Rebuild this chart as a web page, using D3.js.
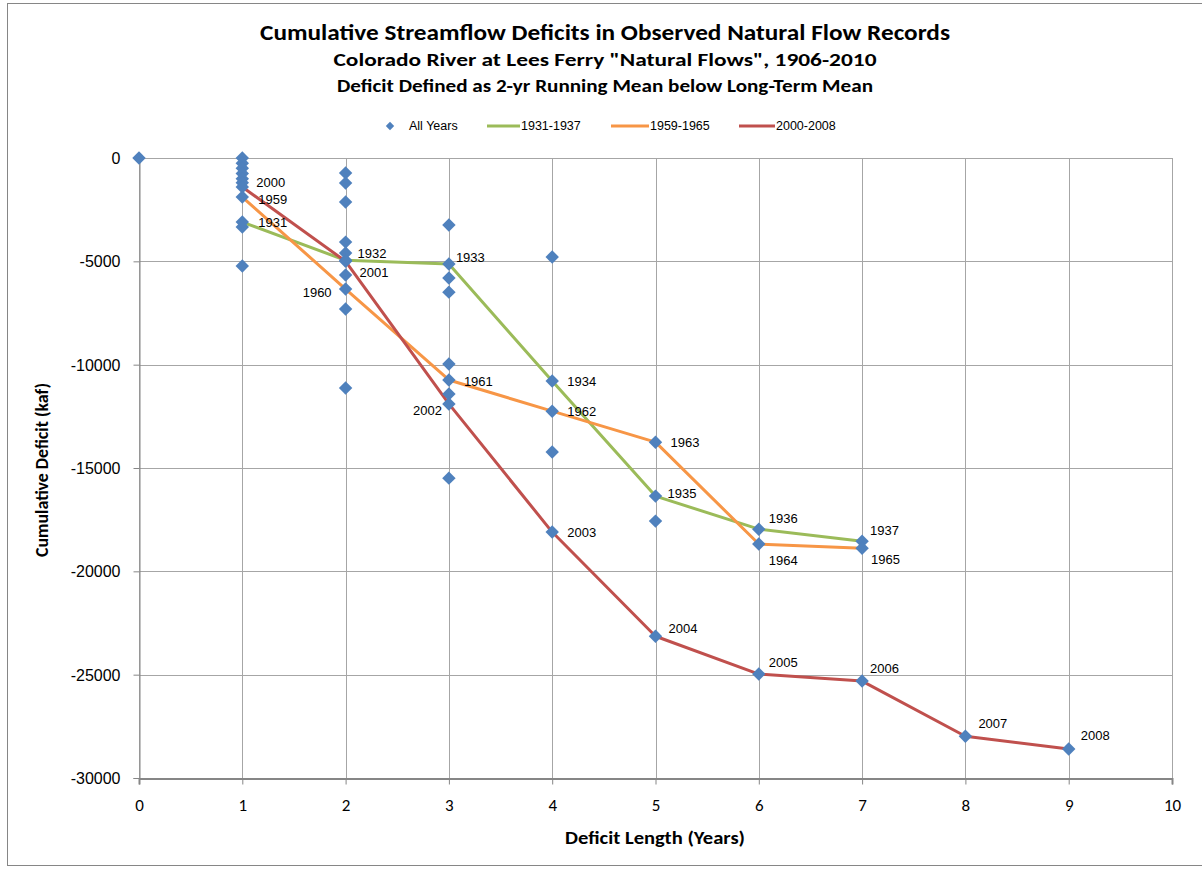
<!DOCTYPE html>
<html><head><meta charset="utf-8">
<script src="https://cdn.jsdelivr.net/npm/d3@7"></script>
<style>
body{margin:0;background:#fff;}
svg{display:block;}
</style></head>
<body>
<svg id="chart" width="1202" height="871"></svg>
<script>
// ---------- data ----------
const titleLines = ["Cumulative Streamflow Deficits in Observed Natural Flow Records",
  "Colorado River at Lees Ferry \"Natural Flows\", 1906-2010",
  "Deficit Defined as 2-yr Running Mean below Long-Term Mean"];
const xTicks = [0,1,2,3,4,5,6,7,8,9,10];
const yTicks = [0,-5000,-10000,-15000,-20000,-25000,-30000];
const seriesNames = ["1931-1937","1959-1965","2000-2008"];

const years1931 = [1931,1932,1933,1934,1935,1936,1937];
const len1931 = [1,2,3,4,5,6,7];
const def1931 = [-3100,-4950,-5130,-10790,-16360,-17960,-18540];

const years1959 = [1959,1960,1961,1962,1963,1964,1965];
const len1959 = [1,2,3,4,5,6,7];
const def1959 = [-1890,-6340,-10740,-12250,-13750,-18680,-18880];

const years2000 = [2000,2001,2002,2003,2004,2005,2006,2007,2008];
const len2000 = [1,2,3,4,5,6,7,8,9];
const def2000 = [-1400,-5000,-11900,-18100,-23140,-24970,-25310,-27980,-28600];

// remaining "All Years" points (not part of the three highlighted droughts)
const otherLen = [0,1,1,1,1,1,1,1,1,2,2,2,2,2,2,2,2,3,3,3,3,3,3,4,4,5];
const otherDef = [0,0,-250,-500,-750,-1000,-1200,-3340,-5230,
  -730,-1210,-2130,-4070,-4600,-5660,-7310,-11130,
  -3240,-5810,-6490,-9970,-11420,-15490,
  -4790,-14230,-17570];

// ---------- styles / layout ----------
const colors = {"1931-1937":"#9bbb59","1959-1965":"#f79646","2000-2008":"#c0504d"};
const pointColor = "#4f81bd";
// label placement: [dx, dy(center), anchor]
const labelPlace = {
  2000:[14,-4,"start"],1959:[16,2,"start"],1931:[16,0,"start"],
  1932:[12,-7,"start"],2001:[14,11,"start"],1960:[-14,3,"end"],
  1933:[7,-7,"start"],1961:[15,1,"start"],2002:[-7,7,"end"],
  1934:[15,0,"start"],1962:[15,0,"start"],2003:[15,0,"start"],
  1963:[15,0,"start"],1935:[12,-3,"start"],2004:[13,-8,"start"],
  1936:[10,-11,"start"],1964:[10,16,"start"],2005:[10,-12,"start"],
  1937:[8,-11,"start"],1965:[9,11,"start"],2006:[8,-13,"start"],
  2007:[13,-13,"start"],2008:[12,-14,"start"]
};

const svg = d3.select("#chart");
const narrow = "'Liberation Sans Narrow','Arial Narrow',Carlito,Calibri,'Liberation Sans',sans-serif";
const arial = "'Liberation Sans',Arial,sans-serif";

// frame
svg.append("rect").attr("x",7.5).attr("y",3.5).attr("width",1200).attr("height",862)
  .attr("fill","#fff").attr("stroke","#868686").attr("stroke-width",1);

const x = d3.scaleLinear().domain([0,10]).range([139,1172]);
const y = d3.scaleLinear().domain([0,-30000]).range([158,778]);

// grid
const g = svg.append("g");
g.selectAll(".hg").data(yTicks).join("line")
  .attr("x1",x(0)).attr("x2",x(10)).attr("y1",d=>Math.round(y(d))+0.5).attr("y2",d=>Math.round(y(d))+0.5)
  .attr("stroke","#a6a6a6").attr("stroke-width",1);
g.selectAll(".vg").data(xTicks).join("line")
  .attr("y1",y(0)).attr("y2",y(-30000)).attr("x1",d=>Math.round(x(d))+0.5).attr("x2",d=>Math.round(x(d))+0.5)
  .attr("stroke","#a6a6a6").attr("stroke-width",1);

// axes
const hyphenFmt = d => String(d);
const yAxis = d3.axisLeft(y).tickValues(yTicks).tickSize(6).tickFormat(hyphenFmt);
const ya = svg.append("g").attr("transform",`translate(${Math.round(x(0))+0.5},0)`).call(yAxis);
ya.select(".domain").attr("stroke","#868686");
ya.selectAll(".tick line").attr("stroke","#868686");
ya.selectAll(".tick text").attr("font-family",arial).attr("font-size",16).attr("fill","#000").attr("x",-19).attr("dy","0.35em");

const xAxis = d3.axisBottom(x).tickValues(xTicks).tickSize(6).tickFormat(hyphenFmt);
const xa = svg.append("g").attr("transform",`translate(0,${Math.round(y(-30000))+0.5})`).call(xAxis);
xa.select(".domain").attr("stroke","#868686").attr("stroke-width",2);
xa.selectAll(".tick line").attr("stroke","#868686");
xa.selectAll(".tick text").attr("font-family",narrow).attr("font-size",17).attr("fill","#000").attr("y",20);

// series lines
const line = d3.line().x(d=>x(d[0])).y(d=>y(d[1]));
const series = [
  {name:"1931-1937",years:years1931,len:len1931,def:def1931},
  {name:"1959-1965",years:years1959,len:len1959,def:def1959},
  {name:"2000-2008",years:years2000,len:len2000,def:def2000}
];
series.forEach(s=>{
  svg.append("path").datum(s.len.map((l,i)=>[l,s.def[i]]))
    .attr("d",line).attr("fill","none").attr("stroke",colors[s.name])
    .attr("stroke-width",3).attr("stroke-linejoin","round");
});

// all points
const allPts = [];
otherLen.forEach((l,i)=>allPts.push([l,otherDef[i]]));
series.forEach(s=>s.len.forEach((l,i)=>allPts.push([l,s.def[i]])));
const diamond = d3.symbol().type(d3.symbolDiamond2).size(115);
svg.append("g").selectAll("path").data(allPts).join("path")
  .attr("transform",d=>`translate(${x(d[0])},${y(d[1])})`)
  .attr("d",diamond).attr("fill",pointColor);

// year labels
series.forEach(s=>{
  s.years.forEach((yr,i)=>{
    const p = labelPlace[yr];
    svg.append("text").attr("x",x(s.len[i])+p[0]).attr("y",y(s.def[i])+p[1])
      .attr("dy","0.35em").attr("text-anchor",p[2])
      .attr("font-family",arial).attr("font-size",13).attr("fill","#000").text(yr);
  });
});

// titles
const tSpecs = [[32,22,690],[60,17,543],[86,17,536]];
titleLines.forEach((t,i)=>{
  svg.append("text").attr("x",605).attr("y",tSpecs[i][0]).attr("dy","0.35em")
    .attr("text-anchor","middle").attr("font-family",narrow).attr("font-weight","bold")
    .attr("font-size",tSpecs[i][1]).attr("textLength",tSpecs[i][2]).attr("lengthAdjust","spacingAndGlyphs")
    .attr("fill","#000").text(t);
});

// axis titles
svg.append("text").attr("x",655).attr("y",838).attr("dy","0.35em").attr("text-anchor","middle")
  .attr("font-family",narrow).attr("font-weight","bold").attr("font-size",17)
  .attr("textLength",180).attr("lengthAdjust","spacingAndGlyphs").text("Deficit Length (Years)");
svg.append("text").attr("transform","translate(42,470) rotate(-90)").attr("dy","0.35em").attr("text-anchor","middle")
  .attr("font-family",narrow).attr("font-weight","bold").attr("font-size",17)
  .attr("textLength",174).attr("lengthAdjust","spacingAndGlyphs").text("Cumulative Deficit (kaf)");

// legend
const lg = svg.append("g");
lg.append("path").attr("transform","translate(390,126)").attr("d",d3.symbol().type(d3.symbolDiamond2).size(45)).attr("fill",pointColor);
lg.append("text").attr("x",409).attr("y",126).attr("dy","0.35em").attr("font-family",arial).attr("font-size",12.5).text("All Years");
const legX = [[487,521],[611,650],[739,776]];
seriesNames.forEach((n,i)=>{
  lg.append("line").attr("x1",legX[i][0]).attr("x2",legX[i][1]-1).attr("y1",126).attr("y2",126)
    .attr("stroke",colors[n]).attr("stroke-width",3);
  lg.append("text").attr("x",legX[i][1]).attr("y",126).attr("dy","0.35em").attr("font-family",arial).attr("font-size",12.5).text(n);
});
</script>
</body></html>
